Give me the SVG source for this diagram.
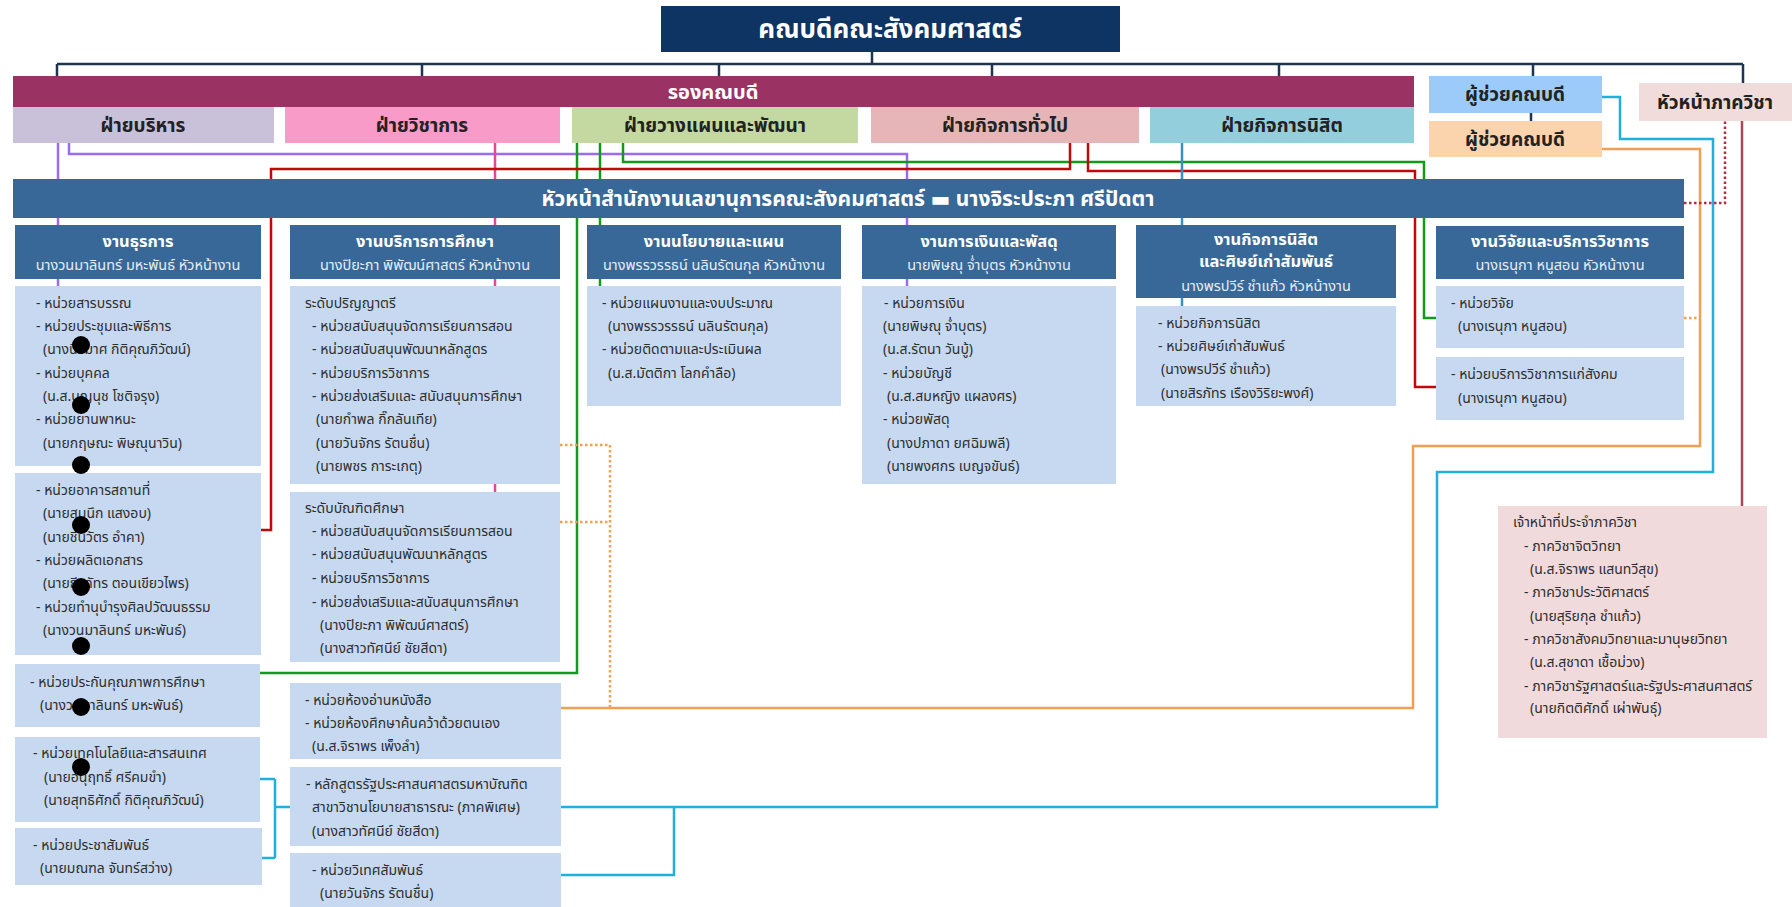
<svg xmlns="http://www.w3.org/2000/svg" width="1792" height="907" viewBox="0 0 1792 907">
<style>
text{font-family:"Noto Sans Thai","Noto Sans","DejaVu Sans",sans-serif;}
.t{font-size:14px;fill:#2e2e2e;}
.h{font-size:16.5px;font-weight:bold;fill:#ffffff;text-anchor:middle;}
.s{font-size:14.5px;fill:#e6edf6;text-anchor:middle;}
.f{font-size:19px;font-weight:bold;fill:#222;text-anchor:middle;}
.w{font-weight:bold;fill:#ffffff;text-anchor:middle;}
.hd{fill:#376897;}
.bx{fill:#c6d9f0;}
.ln{fill:none;stroke-width:2.5;}
.dt{fill:none;stroke-width:2.5;stroke-dasharray:2.5 2.5;}
</style>
<rect width="1792" height="907" fill="#ffffff"/>
<g id="connectors">
<path class="ln" stroke="#1f3550" stroke-width="2" d="M872,52V64M57,64H1743M57,64V76M422,64V76M719,64V76M992,64V76M1279,64V76M1533,64V76M1743,64V83M1531,113V121"/>
<path class="ln" stroke="#9b6cf0" d="M58,143V225M58,279V286M69,143V154H907V225M907,279V286"/>
<path class="ln" stroke="#e7449c" d="M495,143V225M495,279V286M495,484V492"/>
<path class="ln" stroke="#129a1a" d="M577,143V673H260M600,143V225M600,279V286M623,143V162H1424V318H1436"/>
<path class="ln" stroke="#c00a0a" d="M1070,143V169H271V530H261M1088,143V171H1415V387H1436"/>
<path class="ln" stroke="#3a8fc0" stroke-width="2" d="M1182,143V226M1182,298V306"/>
<path class="ln" stroke="#1fb0dd" d="M1602,97H1620V139H1713V472H1437V807H275M275,779V858M260,779H275M262,858H275M674,807V875H561"/>
<path class="ln" stroke="#f0a050" d="M1602,149H1700V446H1413V708H561"/>
<path class="dt" stroke="#f0a050" d="M560,445H610V708M560,522H610M1684,318H1700"/>
<path class="dt" stroke="#b03040" stroke-width="2" d="M1684,203H1725V121"/>
<path class="ln" stroke="#a84a55" stroke-width="2" d="M1742,121V506"/>
</g>
<g id="dean"><rect x="661" y="6" width="459" height="46" fill="#0e3463"/><text class="w" x="890" y="38" font-size="26">คณบดีคณะสังคมศาสตร์</text></g>
<g id="vice-dean"><rect x="13" y="76" width="1401" height="31" fill="#9a3263"/><text class="w" x="713" y="99" font-size="20">รองคณบดี</text></g>
<g id="div-admin"><rect x="13" y="107" width="261" height="36" fill="#c9c0da"/><text class="f" x="143" y="132">ฝ่ายบริหาร</text></g>
<g id="div-academic"><rect x="285" y="107" width="275" height="36" fill="#f89bc9"/><text class="f" x="422" y="132">ฝ่ายวิชาการ</text></g>
<g id="div-plan"><rect x="572" y="107" width="286" height="36" fill="#c4d8a2"/><text class="f" x="715" y="132">ฝ่ายวางแผนและพัฒนา</text></g>
<g id="div-general"><rect x="871" y="107" width="268" height="36" fill="#e5b5b7"/><text class="f" x="1005" y="132">ฝ่ายกิจการทั่วไป</text></g>
<g id="div-student"><rect x="1150" y="107" width="264" height="36" fill="#93cedd"/><text class="f" x="1282" y="132">ฝ่ายกิจการนิสิต</text></g>
<g id="asst-dean-1"><rect x="1429" y="76" width="173" height="37" fill="#9dcbf9"/><text class="f" x="1515" y="101">ผู้ช่วยคณบดี</text></g>
<g id="asst-dean-2"><rect x="1429" y="121" width="173" height="36" fill="#fbd4ad"/><text class="f" x="1515" y="146">ผู้ช่วยคณบดี</text></g>
<g id="dept-head"><rect x="1639" y="83" width="153" height="38" fill="#f1dcdc"/><text class="f" x="1715" y="109">หัวหน้าภาควิชา</text></g>
<g id="office-head"><rect x="13" y="179" width="1671" height="39" fill="#376897"/><text class="w" x="848" y="206" font-size="21">หัวหน้าสำนักงานเลขานุการคณะสังคมศาสตร์ ▬ นางจิระประภา ศรีปัดตา</text></g>

<g id="general-affairs">
<rect class="hd" x="15" y="225" width="246" height="54"/>
<text class="h" x="138" y="247">งานธุรการ</text>
<text class="s" x="138" y="270">นางวนมาลินทร์ มหะพันธ์ หัวหน้างาน</text>
<rect class="bx" x="15" y="286" width="246" height="180"/>
<text class="t" x="36" y="308">- หน่วยสารบรรณ</text>
<text class="t" x="36" y="331">- หน่วยประชุมและพิธีการ</text>
<text class="t" x="43" y="354">(นางนิรมาศ กิติคุณภิวัฒน์)</text>
<text class="t" x="36" y="378">- หน่วยบุคคล</text>
<text class="t" x="43" y="401">(น.ส.บุญนุช โชติจรุง)</text>
<text class="t" x="36" y="424">- หน่วยยานพาหนะ</text>
<text class="t" x="43" y="448">(นายกฤษณะ พิษณุนาวิน)</text>
<rect class="bx" x="15" y="473" width="246" height="182"/>
<text class="t" x="36" y="495">- หน่วยอาคารสถานที่</text>
<text class="t" x="43" y="518">(นายสมนึก แสงอบ)</text>
<text class="t" x="43" y="542">(นายชินวัตร อำคา)</text>
<text class="t" x="36" y="565">- หน่วยผลิตเอกสาร</text>
<text class="t" x="43" y="588">(นายธีรภัทร ตอนเขียวไพร)</text>
<text class="t" x="36" y="612">- หน่วยทำนุบำรุงศิลปวัฒนธรรม</text>
<text class="t" x="43" y="635">(นางวนมาลินทร์ มหะพันธ์)</text>
<rect class="bx" x="15" y="664" width="245" height="63"/>
<text class="t" x="30" y="687">- หน่วยประกันคุณภาพการศึกษา</text>
<text class="t" x="40" y="710">(นางวนมาลินทร์ มหะพันธ์)</text>
<rect class="bx" x="15" y="737" width="245" height="85"/>
<text class="t" x="33" y="758">- หน่วยเทคโนโลยีและสารสนเทศ</text>
<text class="t" x="44" y="782">(นายอนุฤทธิ์ ศรีคมขำ)</text>
<text class="t" x="44" y="805">(นายสุทธิศักดิ์ กิติคุณภิวัฒน์)</text>
<rect class="bx" x="15" y="828" width="247" height="57"/>
<text class="t" x="33" y="850">- หน่วยประชาสัมพันธ์</text>
<text class="t" x="40" y="873">(นายมณฑล จันทร์สว่าง)</text>
<g fill="#000"><circle cx="81" cy="345" r="9"/><circle cx="81" cy="405" r="9"/><circle cx="81" cy="465" r="9"/><circle cx="81" cy="525" r="9"/><circle cx="81" cy="587" r="9"/><circle cx="81" cy="646" r="9"/><circle cx="81" cy="707" r="9"/><circle cx="81" cy="767" r="9"/></g>
</g>

<g id="education-service">
<rect class="hd" x="290" y="225" width="270" height="54"/>
<text class="h" x="425" y="247">งานบริการการศึกษา</text>
<text class="s" x="425" y="270">นางปิยะภา พิพัฒน์ศาสตร์ หัวหน้างาน</text>
<rect class="bx" x="290" y="286" width="270" height="198"/>
<text class="t" x="305" y="308">ระดับปริญญาตรี</text>
<text class="t" x="312" y="331">- หน่วยสนับสนุนจัดการเรียนการสอน</text>
<text class="t" x="312" y="354">- หน่วยสนับสนุนพัฒนาหลักสูตร</text>
<text class="t" x="312" y="378">- หน่วยบริการวิชาการ</text>
<text class="t" x="312" y="401">- หน่วยส่งเสริมและ สนับสนุนการศึกษา</text>
<text class="t" x="316" y="424">(นายกำพล กิ๊กลันเทีย)</text>
<text class="t" x="316" y="448">(นายวันจักร รัตนชื่น)</text>
<text class="t" x="316" y="471">(นายพชร การะเกตุ)</text>
<rect class="bx" x="290" y="492" width="270" height="170"/>
<text class="t" x="305" y="513">ระดับบัณฑิตศึกษา</text>
<text class="t" x="312" y="536">- หน่วยสนับสนุนจัดการเรียนการสอน</text>
<text class="t" x="312" y="559">- หน่วยสนับสนุนพัฒนาหลักสูตร</text>
<text class="t" x="312" y="583">- หน่วยบริการวิชาการ</text>
<text class="t" x="312" y="607">- หน่วยส่งเสริมและสนับสนุนการศึกษา</text>
<text class="t" x="320" y="630">(นางปิยะภา พิพัฒน์ศาสตร์)</text>
<text class="t" x="320" y="653">(นางสาวทัศนีย์ ชัยสีดา)</text>
<rect class="bx" x="290" y="683" width="271" height="76"/>
<text class="t" x="305" y="705">- หน่วยห้องอ่านหนังสือ</text>
<text class="t" x="305" y="728">- หน่วยห้องศึกษาค้นคว้าด้วยตนเอง</text>
<text class="t" x="312" y="751">(น.ส.จิราพร เพ็งลำ)</text>
<rect class="bx" x="290" y="767" width="271" height="79"/>
<text class="t" x="306" y="789">- หลักสูตรรัฐประศาสนศาสตรมหาบัณฑิต</text>
<text class="t" x="312" y="812">สาขาวิชานโยบายสาธารณะ (ภาคพิเศษ)</text>
<text class="t" x="312" y="836">(นางสาวทัศนีย์ ชัยสีดา)</text>
<rect class="bx" x="290" y="853" width="271" height="54"/>
<text class="t" x="312" y="875">- หน่วยวิเทศสัมพันธ์</text>
<text class="t" x="320" y="898">(นายวันจักร รัตนชื่น)</text>
</g>

<g id="policy-plan">
<rect class="hd" x="587" y="225" width="254" height="54"/>
<text class="h" x="714" y="247">งานนโยบายและแผน</text>
<text class="s" x="714" y="270">นางพรรวรรธน์ นลินรัตนกุล หัวหน้างาน</text>
<rect class="bx" x="587" y="286" width="254" height="120"/>
<text class="t" x="602" y="308">- หน่วยแผนงานและงบประมาณ</text>
<text class="t" x="608" y="331">(นางพรรวรรธน์ นลินรัตนกุล)</text>
<text class="t" x="602" y="354">- หน่วยติดตามและประเมินผล</text>
<text class="t" x="608" y="378">(น.ส.มัตติกา โลกคำลือ)</text>
</g>

<g id="finance">
<rect class="hd" x="862" y="225" width="254" height="54"/>
<text class="h" x="989" y="247">งานการเงินและพัสดุ</text>
<text class="s" x="989" y="270">นายพิษณุ จ่ำบุตร หัวหน้างาน</text>
<rect class="bx" x="862" y="286" width="254" height="198"/>
<text class="t" x="884" y="308">-  หน่วยการเงิน</text>
<text class="t" x="883" y="331">(นายพิษณุ จ่ำบุตร)</text>
<text class="t" x="883" y="354">(น.ส.รัตนา วันบู้)</text>
<text class="t" x="883" y="378">- หน่วยบัญชี</text>
<text class="t" x="887" y="401">(น.ส.สมหญิง แผลงศร)</text>
<text class="t" x="883" y="424">- หน่วยพัสดุ</text>
<text class="t" x="887" y="448">(นางปภาดา ยศฉิมพลี)</text>
<text class="t" x="887" y="471">(นายพงศกร เบญจขันธ์)</text>
</g>

<g id="student-affairs">
<rect class="hd" x="1136" y="225" width="260" height="73"/>
<text class="h" x="1266" y="245">งานกิจการนิสิต</text>
<text class="h" x="1266" y="267">และศิษย์เก่าสัมพันธ์</text>
<text class="s" x="1266" y="291">นางพรปวีร์ ชำแก้ว หัวหน้างาน</text>
<rect class="bx" x="1136" y="306" width="260" height="100"/>
<text class="t" x="1158" y="328">- หน่วยกิจการนิสิต</text>
<text class="t" x="1158" y="351">- หน่วยศิษย์เก่าสัมพันธ์</text>
<text class="t" x="1161" y="374">(นางพรปวีร์ ชำแก้ว)</text>
<text class="t" x="1161" y="398">(นายสิรภัทร เรืองวิริยะพงศ์)</text>
</g>

<g id="research">
<rect class="hd" x="1436" y="226" width="248" height="53"/>
<text class="h" x="1560" y="247">งานวิจัยและบริการวิชาการ</text>
<text class="s" x="1560" y="270">นางเรนุกา หนูสอน หัวหน้างาน</text>
<rect class="bx" x="1436" y="286" width="248" height="62"/>
<text class="t" x="1451" y="308">- หน่วยวิจัย</text>
<text class="t" x="1458" y="331">(นางเรนุกา หนูสอน)</text>
<rect class="bx" x="1436" y="357" width="248" height="63"/>
<text class="t" x="1451" y="379">- หน่วยบริการวิชาการแก่สังคม</text>
<text class="t" x="1458" y="403">(นางเรนุกา หนูสอน)</text>
</g>

<g id="dept-staff">
<rect x="1498" y="506" width="269" height="232" fill="#f0dadc"/>
<text class="t" x="1513" y="527">เจ้าหน้าที่ประจำภาควิชา</text>
<text class="t" x="1524" y="551">- ภาควิชาจิตวิทยา</text>
<text class="t" x="1530" y="574">(น.ส.จิราพร แสนทวีสุข)</text>
<text class="t" x="1524" y="597">- ภาควิชาประวัติศาสตร์</text>
<text class="t" x="1530" y="621">(นายสุริยกุล ชำแก้ว)</text>
<text class="t" x="1524" y="644">- ภาควิชาสังคมวิทยาและมานุษยวิทยา</text>
<text class="t" x="1530" y="667">(น.ส.สุชาดา เชื้อม่วง)</text>
<text class="t" x="1524" y="691">- ภาควิชารัฐศาสตร์และรัฐประศาสนศาสตร์</text>
<text class="t" x="1530" y="713">(นายกิตติศักดิ์ เผ่าพันธุ์)</text>
</g>
</svg>
